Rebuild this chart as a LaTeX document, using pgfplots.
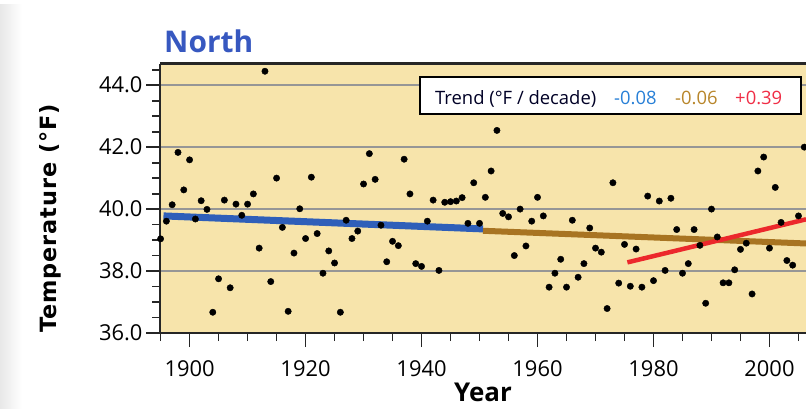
\documentclass[border=0pt]{standalone}
\usepackage{fontspec}
\setmainfont{Open Sans}
\newfontfamily\dvs[LetterSpace=4]{DejaVu Sans}
\usepackage{pgfplots}
\pgfplotsset{compat=1.18}
\definecolor{bg}{RGB}{247,228,171}
\definecolor{trendblue}{RGB}{47,95,185}
\definecolor{trendbrown}{RGB}{168,116,34}
\definecolor{trendred}{RGB}{236,40,44}
\definecolor{legblue}{RGB}{40,128,215}
\definecolor{legbrown}{RGB}{184,134,43}
\definecolor{legred}{RGB}{240,45,70}
\definecolor{titleblue}{RGB}{55,88,192}
\definecolor{gridgray}{RGB}{150,150,150}
\begin{document}
\begin{tikzpicture}[x=1bp,y=1bp]
\path[use as bounding box] (0,0) rectangle (806,408);
\shade[left color=black!9, right color=white] (0,0) rectangle (22,403);
\begin{axis}[
  at={(160bp,75bp)}, anchor=south west,
  scale only axis, width=646bp, height=269.5bp,
  xmin=1894.9, xmax=2006.3, ymin=36, ymax=44.7,
  axis x line=box, axis y line=left,
  x axis line style={-, line width=2.5bp, draw=black!85},
  y axis line style={-, line width=2.5bp, draw=black!85},
  axis background/.style={fill=bg},
  xtick={1900,1920,...,2000}, minor xtick={1895,1900,...,2005},
  ytick={36,38,...,44}, minor ytick={36,36.5,...,44.5},
  xtick pos=left, ytick pos=left,
  xticklabel pos=left, yticklabel pos=left,
  tick align=outside,
  major tick length=14bp, minor tick length=8bp,
  every tick/.style={draw=black!85, line width=1.8bp},
  ymajorgrids,
  major grid style={draw=gridgray, line width=2bp},
  /pgf/number format/assume math mode=true,
  ticklabel style={font=\fontsize{22}{22}\selectfont},
  x tick label style={/pgf/number format/1000 sep={}, yshift=-10bp},
  y tick label style={/pgf/number format/.cd, fixed, fixed zerofill, precision=1},
  clip=false,
]
\addplot[only marks, mark=*, mark size=3.2bp, black] table {
1895 39.04
1896 39.61
1897 40.14
1898 41.83
1899 40.62
1900 41.59
1901 39.68
1902 40.27
1903 39.99
1904 36.67
1905 37.75
1906 40.29
1907 37.46
1908 40.16
1909 39.80
1910 40.16
1911 40.49
1912 38.74
1913 44.45
1914 37.66
1915 41.00
1916 39.41
1917 36.70
1918 38.58
1919 40.01
1920 39.05
1921 41.03
1922 39.21
1923 37.93
1924 38.65
1925 38.26
1926 36.67
1927 39.64
1928 39.05
1929 39.29
1930 40.81
1931 41.79
1932 40.96
1933 39.48
1934 38.30
1935 38.96
1936 38.82
1937 41.61
1938 40.49
1939 38.24
1940 38.15
1941 39.61
1942 40.29
1943 38.02
1944 40.22
1945 40.24
1946 40.26
1947 40.37
1948 39.54
1949 40.85
1950 39.54
1951 40.38
1952 41.23
1953 42.54
1954 39.86
1955 39.75
1956 38.50
1957 40.00
1958 38.81
1959 39.61
1960 40.38
1961 39.78
1962 37.48
1963 37.93
1964 38.38
1965 37.48
1966 39.64
1967 37.80
1968 38.24
1969 39.39
1970 38.74
1971 38.61
1972 36.79
1973 40.85
1974 37.61
1975 38.86
1976 37.51
1977 38.71
1978 37.48
1979 40.42
1980 37.69
1981 40.26
1982 38.02
1983 40.35
1984 39.34
1985 37.93
1986 38.24
1987 39.34
1988 38.83
1989 36.96
1990 40.00
1991 39.10
1992 37.62
1993 37.62
1994 38.04
1995 38.70
1996 38.90
1997 37.26
1998 41.23
1999 41.68
2000 38.74
2001 40.70
2002 39.57
2003 38.34
2004 38.19
2005 39.78
2006 42.00
};
\addplot[no marks, line width=7bp, trendblue] coordinates {(1895.5,39.78) (1950.6,39.36)};
\addplot[no marks, line width=6bp, trendbrown] coordinates {(1950.6,39.30) (2006.3,38.89)};
\addplot[no marks, line width=4.5bp, trendred] coordinates {(1975.5,38.28) (2006.3,39.67)};
\end{axis}
\draw[line width=2.4bp, fill=white] (420,294) rectangle (801,331);
\node[anchor=base west, inner sep=0, font=\fontsize{18.5}{18.5}\selectfont, text=black!85!blue] at (435,304) {Trend (°F / decade)};
\node[anchor=base west, inner sep=0, font=\fontsize{18.5}{18.5}\selectfont, text=legblue] at (614,304) {-0.08};
\node[anchor=base west, inner sep=0, font=\fontsize{18.5}{18.5}\selectfont, text=legbrown] at (675,304) {-0.06};
\node[anchor=base west, inner sep=0, font=\fontsize{18.5}{18.5}\selectfont, text=legred] at (735,304) {+0.39};
\node[anchor=base west, inner sep=0, font=\fontsize{30}{30}\selectfont\bfseries, text=titleblue] at (164,356) {North};
\node[anchor=base, inner sep=0, font=\fontsize{26}{26}\selectfont\bfseries] at (483,6.5) {Year};
\node[rotate=90, anchor=base, inner sep=0, font=\dvs\fontsize{22.5}{22.5}\selectfont\bfseries] at (56,189.5) {Temperature (°F)};
\end{tikzpicture}
\end{document}
